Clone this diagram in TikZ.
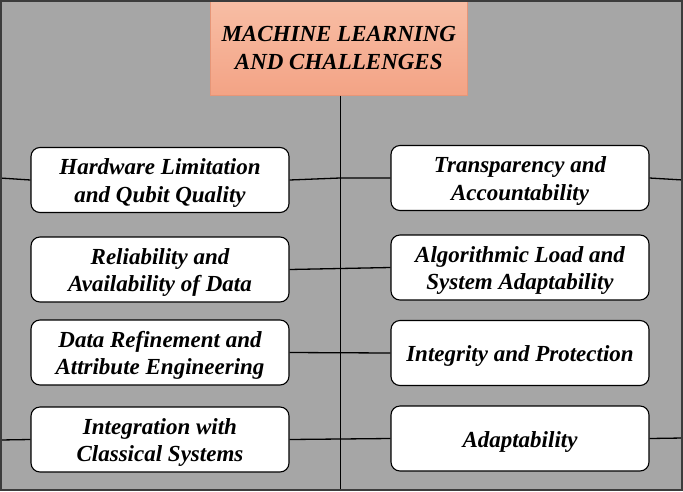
\documentclass[tikz,border=0pt]{standalone}
\usepackage{fontspec}
\setmainfont{Liberation Serif}
\begin{document}
\begin{tikzpicture}[x=1pt,y=-1pt,
  item/.style={draw=black,line width=1.1pt,fill=white,rounded corners=9pt,
    minimum width=258pt,minimum height=65pt,inner sep=0pt},
  txt/.style={align=center,inner sep=0pt,yshift=-3pt,
    font=\fontsize{23}{27.5}\selectfont\bfseries\itshape},
  link/.style={draw=black,line width=1.3pt},
  spine/.style={draw=black,line width=0.9pt}]
\fill[fill={rgb,255:red,166;green,166;blue,166}] (0,0) rectangle (683,491);
\useasboundingbox (0,0) rectangle (683,491);
\node[draw={rgb,255:red,230;green,150;blue,120},line width=0.6pt,
  top color={rgb,255:red,248;green,190;blue,165},
  bottom color={rgb,255:red,243;green,163;blue,133},
  minimum width=257pt,minimum height=95pt,anchor=north west,inner sep=0pt,
  align=center,font=\fontsize{23}{28}\selectfont\bfseries\itshape] (top) at (210,0)
  {MACHINE LEARNING\\AND CHALLENGES};
\coordinate (sb) at (340,491);
\draw[spine] (top.south -| sb) -- (sb);
% left column
\node[item,label={[txt]center:{Hardware Limitation\\and Qubit Quality}}] (l1) at (160,180) {};
\node[item,label={[txt]center:{Reliability and\\Availability of Data}}] (l2) at (160,269.5) {};
\node[item,label={[txt]center:{Data Refinement and\\Attribute Engineering}}] (l3) at (160,352.5) {};
\node[item,label={[txt]center:{Integration with\\Classical Systems}}] (l4) at (160,439.5) {};
% right column
\node[item,label={[txt]center:{Transparency and\\Accountability}}] (r1) at (520,178) {};
\node[item,label={[txt]center:{Algorithmic Load and\\System Adaptability}}] (r2) at (520,267.5) {};
\node[item,label={[txt]center:{Integrity and Protection}}] (r3) at (520,353) {};
\node[item,label={[txt]center:{Adaptability}}] (r4) at (520,438.5) {};
% outer connectors
\coordinate (e1) at (0,178);
\coordinate (e4) at (0,440);
\coordinate (f1) at (683,180);
\coordinate (f4) at (683,438);
\coordinate (s1) at (340,178);
\draw[link] (e1) -- (l1.west);
\draw[link] (e4) -- (l4.west);
\draw[link] (r1.east) -- (f1);
\draw[link] (r4.east) -- (f4);
\draw[link] (l1.east) -- (s1) -- (r1.west);
\draw[link] (l2.east) -- (r2.west);
\draw[link] (l3.east) -- (r3.west);
\draw[link] (l4.east) -- (r4.west);
\draw[draw={rgb,255:red,60;green,60;blue,60},line width=2pt] (1,1) rectangle (682,490);
\end{tikzpicture}
\end{document}
